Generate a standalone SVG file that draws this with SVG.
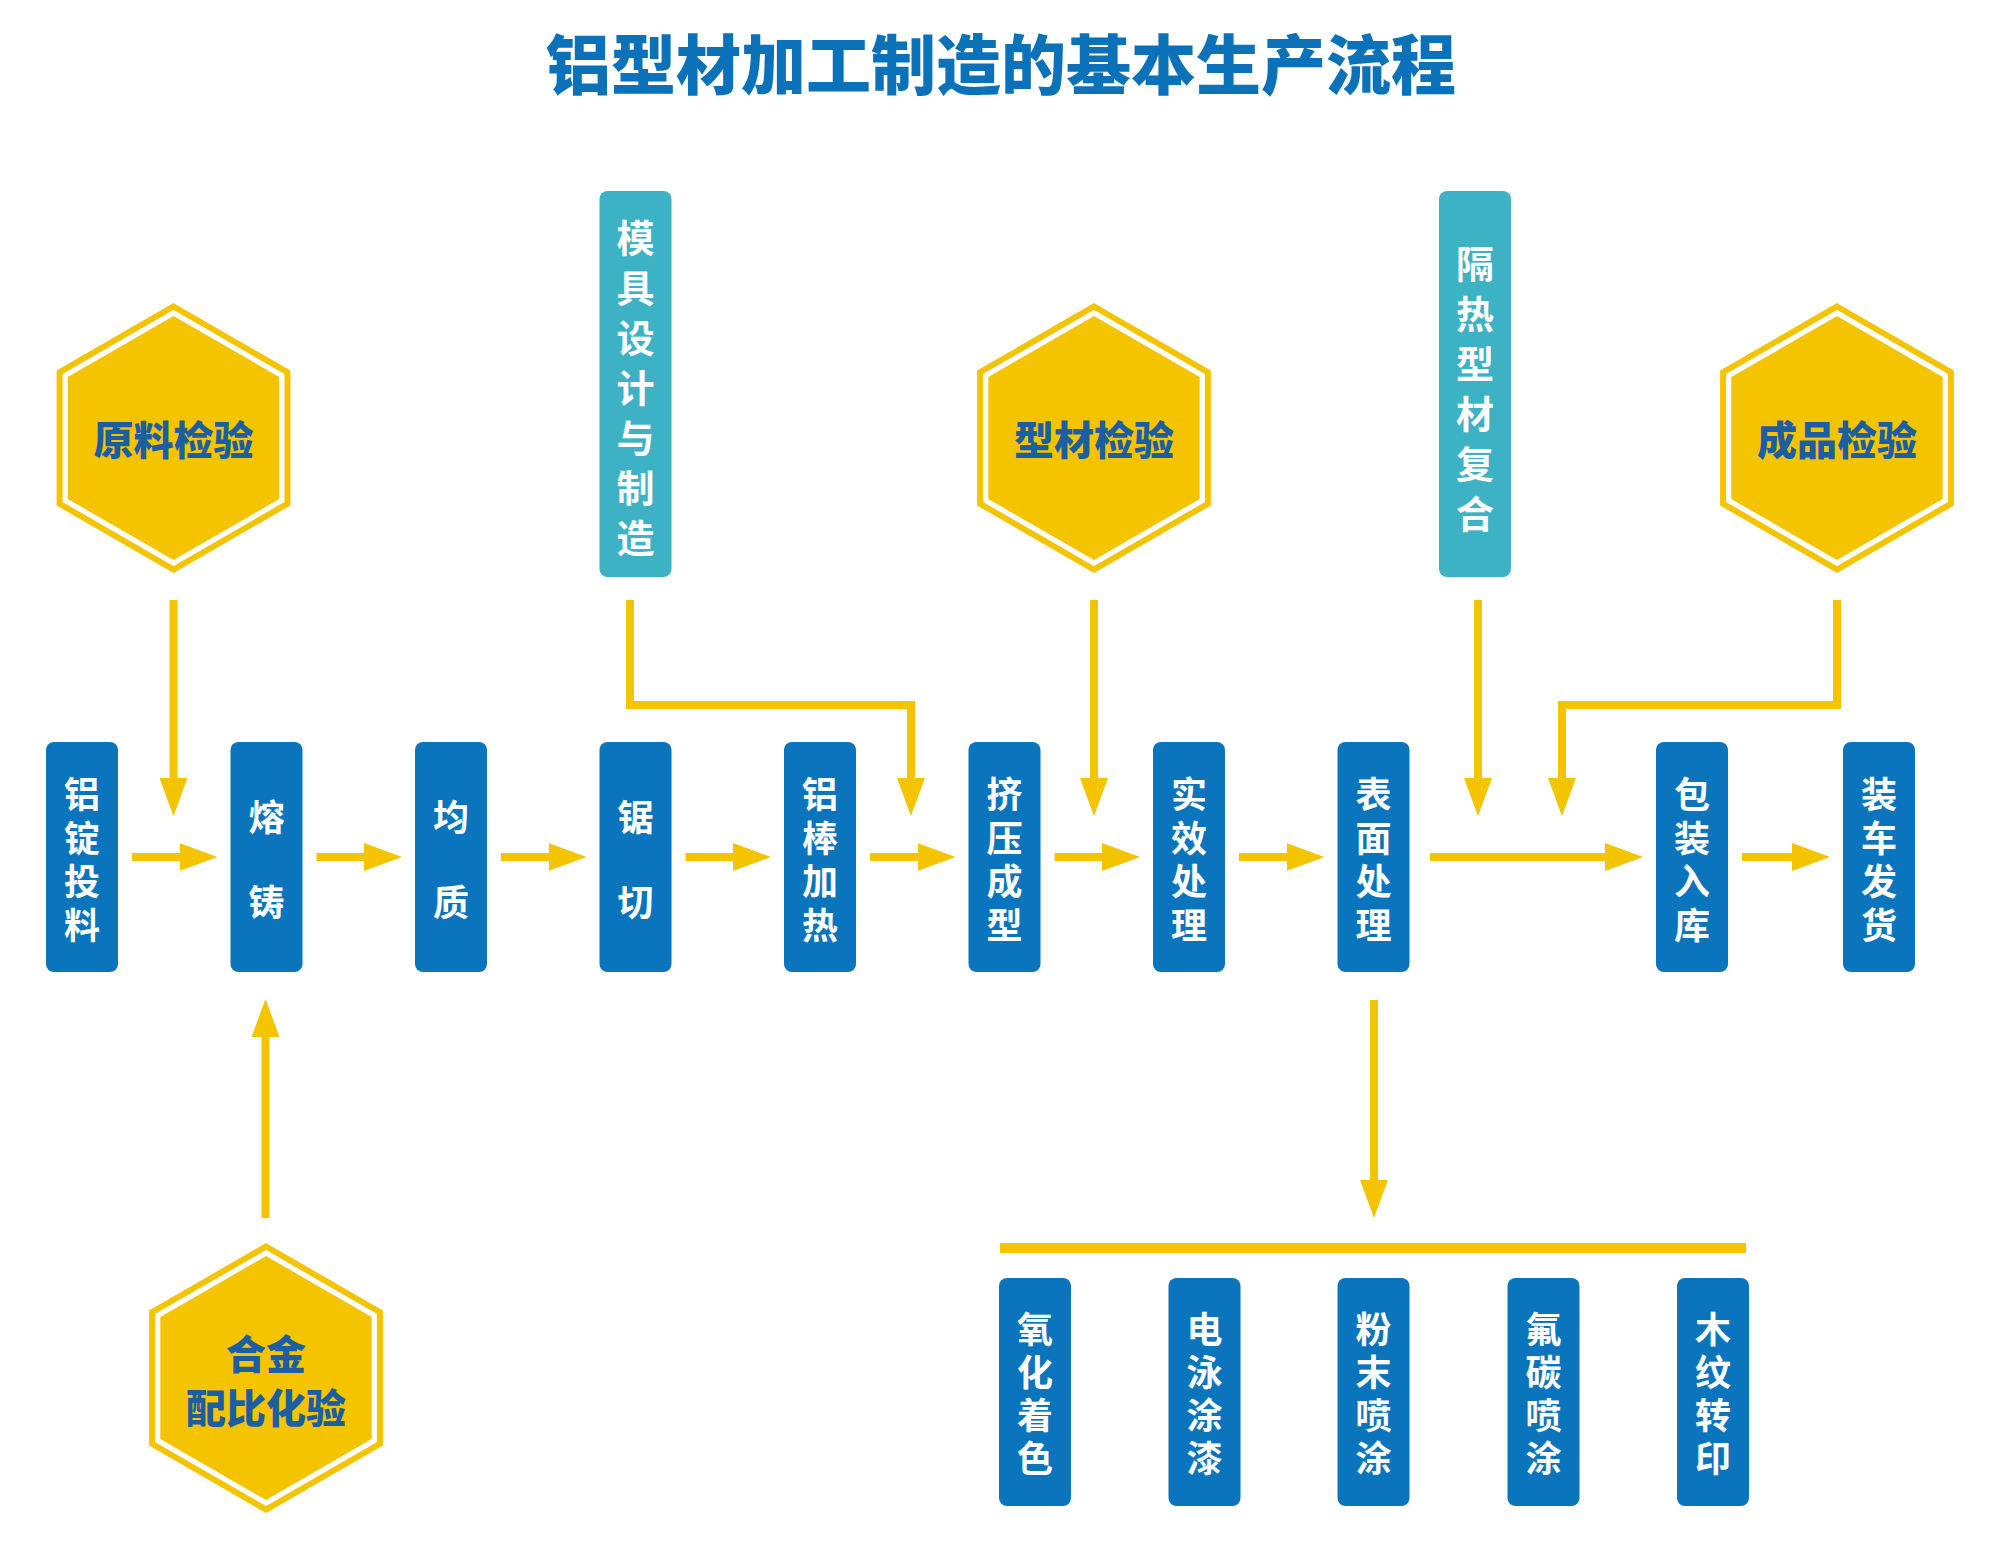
<svg xmlns="http://www.w3.org/2000/svg" width="2000" height="1551" viewBox="0 0 2000 1551">
<style>
.title{font-family:"Noto Sans CJK SC","Noto Sans",sans-serif;font-weight:900;font-size:65px;fill:#0B72BA;text-anchor:middle}
.box{fill:#0A74BC}
.teal{fill:#3CB2C4}
.bt{font-family:"Noto Sans CJK SC","Noto Sans",sans-serif;font-weight:700;font-size:36px;fill:#fff;text-anchor:middle;dominant-baseline:central}
.tt{font-family:"Noto Sans CJK SC","Noto Sans",sans-serif;font-weight:700;font-size:38px;fill:#fff;text-anchor:middle;dominant-baseline:central}
.ht{font-family:"Noto Sans CJK SC","Noto Sans",sans-serif;font-weight:900;font-size:40px;fill:#1B5EA2;text-anchor:middle;dominant-baseline:central}
.conn{fill:none;stroke:#F5C400;stroke-width:8;marker-end:url(#ah)}
</style>
<defs>
<marker id="ah" viewBox="0 0 38 28" refX="18" refY="14" markerWidth="38" markerHeight="28" markerUnits="userSpaceOnUse" orient="auto">
<path d="M0,0 L38,14 L0,28 Z" fill="#F5C400"/>
</marker>
<g id="hex">
<polygon points="0,-131.5 113.9,-65.75 113.9,65.75 0,131.5 -113.9,65.75 -113.9,-65.75" fill="none" stroke="#F5C400" stroke-width="6"/>
<polygon points="0,-122 105.7,-61 105.7,61 0,122 -105.7,61 -105.7,-61" fill="#F5C400"/>
</g>
</defs>
<rect width="2000" height="1551" fill="#fff"/>
<text class="title" x="1001" y="89">铝型材加工制造的基本生产流程</text>

<g id="connectors">
<path class="conn" d="M132,857 H197.5"/>
<path class="conn" d="M316.5,857 H382"/>
<path class="conn" d="M501,857 H566.5"/>
<path class="conn" d="M685.5,857 H751"/>
<path class="conn" d="M870,857 H935.5"/>
<path class="conn" d="M1054.5,857 H1120"/>
<path class="conn" d="M1239,857 H1304.5"/>
<path class="conn" d="M1430,857 H1623"/>
<path class="conn" d="M1742,857 H1810"/>
<path class="conn" d="M173.5,600 V796"/>
<path class="conn" d="M630,600 V705 H911 V796"/>
<path class="conn" d="M1094,600 V796"/>
<path class="conn" d="M1478,600 V796"/>
<path class="conn" d="M1837,600 V705 H1562 V796"/>
<path class="conn" d="M265.5,1218 V1019"/>
<path class="conn" d="M1374,1000 V1198"/>
<rect x="1000" y="1243" width="746" height="10" fill="#F5C400"/>
</g>

<g id="hex-yuanliao"><use href="#hex" transform="translate(173.5,438)"/><text class="ht" x="173.5" y="438">原料检验</text></g>
<g id="hex-xingcai"><use href="#hex" transform="translate(1094,438)"/><text class="ht" x="1094" y="438">型材检验</text></g>
<g id="hex-chengpin"><use href="#hex" transform="translate(1837,438)"/><text class="ht" x="1837" y="438">成品检验</text></g>
<g id="hex-hejin"><use href="#hex" transform="translate(266,1378)"/><text class="ht" x="266" y="1352">合金</text><text class="ht" x="266" y="1406">配比化验</text></g>

<g id="teal-muju"><rect class="teal" x="599.5" y="191" width="72" height="386" rx="8"/>
<text class="tt"><tspan x="635.5" y="235">模</tspan><tspan x="635.5" y="285">具</tspan><tspan x="635.5" y="335">设</tspan><tspan x="635.5" y="385">计</tspan><tspan x="635.5" y="435">与</tspan><tspan x="635.5" y="485">制</tspan><tspan x="635.5" y="535">造</tspan></text></g>
<g id="teal-gere"><rect class="teal" x="1439" y="191" width="72" height="386" rx="8"/>
<text class="tt"><tspan x="1475" y="261">隔</tspan><tspan x="1475" y="311">热</tspan><tspan x="1475" y="361">型</tspan><tspan x="1475" y="411">材</tspan><tspan x="1475" y="461">复</tspan><tspan x="1475" y="511">合</tspan></text></g>

<g id="n1"><rect class="box" x="46" y="742" width="72" height="230" rx="8"/>
<text class="bt"><tspan x="82" y="792">铝</tspan><tspan x="82" y="835.5">锭</tspan><tspan x="82" y="879">投</tspan><tspan x="82" y="922.5">料</tspan></text></g>
<g id="n2"><rect class="box" x="230.5" y="742" width="72" height="230" rx="8"/>
<text class="bt"><tspan x="266.5" y="815">熔</tspan><tspan x="266.5" y="900">铸</tspan></text></g>
<g id="n3"><rect class="box" x="415" y="742" width="72" height="230" rx="8"/>
<text class="bt"><tspan x="451" y="815">均</tspan><tspan x="451" y="900">质</tspan></text></g>
<g id="n4"><rect class="box" x="599.5" y="742" width="72" height="230" rx="8"/>
<text class="bt"><tspan x="635.5" y="815">锯</tspan><tspan x="635.5" y="900">切</tspan></text></g>
<g id="n5"><rect class="box" x="784" y="742" width="72" height="230" rx="8"/>
<text class="bt"><tspan x="820" y="792">铝</tspan><tspan x="820" y="835.5">棒</tspan><tspan x="820" y="879">加</tspan><tspan x="820" y="922.5">热</tspan></text></g>
<g id="n6"><rect class="box" x="968.5" y="742" width="72" height="230" rx="8"/>
<text class="bt"><tspan x="1004.5" y="792">挤</tspan><tspan x="1004.5" y="835.5">压</tspan><tspan x="1004.5" y="879">成</tspan><tspan x="1004.5" y="922.5">型</tspan></text></g>
<g id="n7"><rect class="box" x="1153" y="742" width="72" height="230" rx="8"/>
<text class="bt"><tspan x="1189" y="792">实</tspan><tspan x="1189" y="835.5">效</tspan><tspan x="1189" y="879">处</tspan><tspan x="1189" y="922.5">理</tspan></text></g>
<g id="n8"><rect class="box" x="1337.5" y="742" width="72" height="230" rx="8"/>
<text class="bt"><tspan x="1373.5" y="792">表</tspan><tspan x="1373.5" y="835.5">面</tspan><tspan x="1373.5" y="879">处</tspan><tspan x="1373.5" y="922.5">理</tspan></text></g>
<g id="n9"><rect class="box" x="1656" y="742" width="72" height="230" rx="8"/>
<text class="bt"><tspan x="1692" y="792">包</tspan><tspan x="1692" y="835.5">装</tspan><tspan x="1692" y="879">入</tspan><tspan x="1692" y="922.5">库</tspan></text></g>
<g id="n10"><rect class="box" x="1843" y="742" width="72" height="230" rx="8"/>
<text class="bt"><tspan x="1879" y="792">装</tspan><tspan x="1879" y="835.5">车</tspan><tspan x="1879" y="879">发</tspan><tspan x="1879" y="922.5">货</tspan></text></g>

<g id="s1"><rect class="box" x="999" y="1278" width="72" height="228" rx="8"/>
<text class="bt"><tspan x="1035" y="1327">氧</tspan><tspan x="1035" y="1370">化</tspan><tspan x="1035" y="1413">着</tspan><tspan x="1035" y="1456">色</tspan></text></g>
<g id="s2"><rect class="box" x="1168.5" y="1278" width="72" height="228" rx="8"/>
<text class="bt"><tspan x="1204.5" y="1327">电</tspan><tspan x="1204.5" y="1370">泳</tspan><tspan x="1204.5" y="1413">涂</tspan><tspan x="1204.5" y="1456">漆</tspan></text></g>
<g id="s3"><rect class="box" x="1337.5" y="1278" width="72" height="228" rx="8"/>
<text class="bt"><tspan x="1373.5" y="1327">粉</tspan><tspan x="1373.5" y="1370">末</tspan><tspan x="1373.5" y="1413">喷</tspan><tspan x="1373.5" y="1456">涂</tspan></text></g>
<g id="s4"><rect class="box" x="1507.5" y="1278" width="72" height="228" rx="8"/>
<text class="bt"><tspan x="1543.5" y="1327">氟</tspan><tspan x="1543.5" y="1370">碳</tspan><tspan x="1543.5" y="1413">喷</tspan><tspan x="1543.5" y="1456">涂</tspan></text></g>
<g id="s5"><rect class="box" x="1677" y="1278" width="72" height="228" rx="8"/>
<text class="bt"><tspan x="1713" y="1327">木</tspan><tspan x="1713" y="1370">纹</tspan><tspan x="1713" y="1413">转</tspan><tspan x="1713" y="1456">印</tspan></text></g>
</svg>
